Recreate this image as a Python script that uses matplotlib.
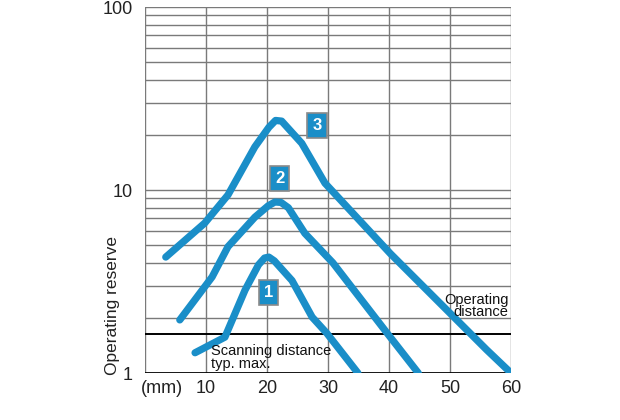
"""
Operating reserve vs. distance chart (log y axis)
"""
import matplotlib
matplotlib.use("Agg")
import matplotlib.pyplot as plt

# curve data (mm, operating reserve)
x1 = [8.2, 13.1, 16.4, 18.6, 19.6, 20.3, 21.2, 24.1, 27.4, 29.8, 34.9]
y1 = [1.29, 1.57, 2.84, 3.9, 4.25, 4.3, 4.1, 3.2, 2.02, 1.65, 1.0]

x2 = [5.7, 11.0, 13.6, 18.0, 20.2, 21.3, 22.3, 23.5, 26.2, 30.8, 39.7, 44.8]
y2 = [1.95, 3.35, 4.9, 7.1, 8.2, 8.6, 8.55, 8.0, 5.8, 4.0, 1.65, 1.0]

x3 = [3.4, 9.8, 13.6, 18.0, 20.3, 21.4, 22.4, 23.6, 25.7, 29.5, 40.2, 56.0, 60.0]
y3 = [4.3, 6.6, 9.4, 17.2, 22.0, 24.0, 23.8, 21.5, 18.0, 10.9, 4.5, 1.34, 1.0]

curve_names = ["1", "2", "3"]
label_pos = [(20.3, 2.74), (22.1, 11.5), (28.2, 22.4)]

operating_level = 1.63
x_ticks = [10, 20, 30, 40, 50, 60]
y_ticks = [1, 10, 100]

BLUE = "#1a8ec8"
GRID = "#7a7a7a"

plt.rcParams["font.family"] = ["Liberation Sans", "DejaVu Sans"]

fig = plt.figure(figsize=(6.2, 4.2), dpi=100)
ax = fig.add_axes([0.2339, 0.1119, 0.5903, 0.8714])
ax.set_yscale("log")
ax.set_xlim(0, 60)
ax.set_ylim(1, 100)

# grid
for gx in range(0, 61, 10):
    ax.axvline(gx, color=GRID, lw=1.0, zorder=1)
for dec in (1, 10):
    for m in range(2, 10):
        ax.axhline(dec * m, color=GRID, lw=1.0, zorder=1)
ax.axhline(10, color=GRID, lw=1.0, zorder=1)
ax.axhline(100, color=GRID, lw=1.0, zorder=1)
ax.axhline(operating_level, color="black", lw=1.4, zorder=2)
ax.axhline(1, color="black", lw=2.0, zorder=2)

for s in ax.spines.values():
    s.set_visible(False)

ax.set_xticks(x_ticks)
ax.set_xticklabels([str(t) for t in x_ticks])
ax.set_yticks(y_ticks)
ax.set_yticklabels([str(t) for t in y_ticks])
ax.minorticks_off()
ax.tick_params(length=0, labelsize=13, colors="#222222")
ax.tick_params(axis="x", pad=5)
ax.tick_params(axis="y", pad=9)
ax.text(2.8, -0.042, "(mm)", transform=ax.get_xaxis_transform(),
        ha="center", va="center", fontsize=13, color="#222222")

for xs, ys in ((x1, y1), (x2, y2), (x3, y3)):
    ax.plot(xs, ys, color=BLUE, lw=5.2, solid_capstyle="round",
            solid_joinstyle="round", zorder=3)

for name, (lx, ly) in zip(curve_names, label_pos):
    ax.text(lx, ly, name, ha="center", va="center", color="white",
            fontsize=12, fontweight="bold", zorder=5,
            bbox=dict(boxstyle="square,pad=0.3", fc=BLUE, ec="#8a8a8a", lw=1.2))

ax.text(10.8, 1.0 + 0.03, "Scanning distance\ntyp. max.", ha="left", va="bottom",
        fontsize=10.5, linespacing=0.85, color="#111111", zorder=4)
ax.text(59.6, 1.97, "Operating\ndistance", ha="right", va="bottom",
        fontsize=10.5, linespacing=0.85, color="#111111", zorder=4)

fig.text(0.181, 0.107, "Operating reserve", rotation=90, ha="center", va="bottom",
         fontsize=12.5, color="#222222")

fig.savefig("out.png", dpi=100)
